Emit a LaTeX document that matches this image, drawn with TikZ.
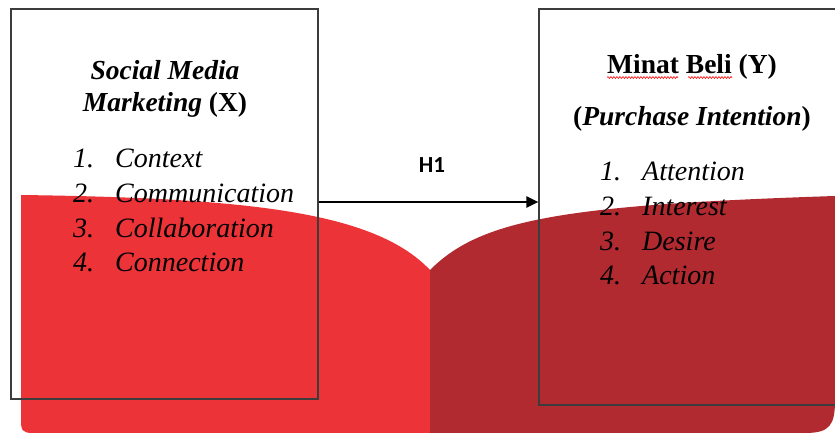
\documentclass[tikz,border=0pt]{standalone}
\usepackage{fontspec}
\setmainfont{Liberation Serif}
\newfontfamily\hfont{Carlito}
\usetikzlibrary{arrows.meta,decorations.pathmorphing}
\definecolor{redA}{HTML}{EB3338}
\definecolor{redB}{HTML}{B02A30}
\definecolor{boxgray}{HTML}{3C3C3C}
\newcommand{\numbx}[1]{\makebox[42pt][l]{#1}}
\tikzset{
  boxst/.style={draw=boxgray, line width=1.2pt, rectangle, inner sep=0pt},
  ttl/.style={anchor=base, inner sep=0pt, font=\fontsize{27.5}{32}\selectfont\bfseries},
  itm/.style={anchor=base west, inner sep=0pt, font=\fontsize{28}{32}\selectfont\itshape},
  arr/.style={line width=2.2pt, -{Triangle[length=12pt,width=11pt]}},
  squig/.style={red, line width=0.6pt, decorate, decoration={snake, amplitude=0.9pt, segment length=3pt}}
}
\begin{document}
\begin{tikzpicture}[x=1pt,y=-1pt]
\useasboundingbox (0,0) rectangle (835,433);
\begin{scope}
\clip (0,0) rectangle (835,433);
% red shapes
\fill[redA] (21,195) .. controls (250,198) and (375,212) .. (430,270) -- (430,433) -- (33,433) .. controls (22,433) and (21,430) .. (21,420) -- cycle;
\fill[redB] (430,270) .. controls (480,220) and (560,205) .. (835,196) -- (835,400) .. controls (835,425) and (830,433) .. (805,433) -- (430,433) -- cycle;
% boxes
\node (L) [boxst, minimum width=307pt, minimum height=390pt] at (164.5,204) {};
\node (R) [boxst, minimum width=311pt, minimum height=396pt] at (694.5,207) {};
\end{scope}
% left texts
\node (l1) [ttl] at (165,80) {\itshape Social Media};
\node (l2) [ttl] at (165,112) {\itshape Marketing \upshape(X)};
\node (a1) [itm] at (73,167) {\numbx{1.}Context};
\node (a2) [itm] at (73,202) {\numbx{2.}Communication};
\node (a3) [itm] at (73,237) {\numbx{3.}Collaboration};
\node (a4) [itm] at (73,271) {\numbx{4.}Connection};
% right texts
\node (r1) [ttl] at (692,74) {Minat Beli (Y)};
\node (r2) [ttl] at (692,126) {(\textit{Purchase Intention})};
\node (b1) [itm] at (600,180) {\numbx{1.}Attention};
\node (b2) [itm] at (600,215) {\numbx{2.}Interest};
\node (b3) [itm] at (600,250) {\numbx{3.}Desire};
\node (b4) [itm] at (600,284) {\numbx{4.}Action};
\draw[squig] (607,77.5) -- (678,77.5);
\draw[squig] (688,77.5) -- (732,77.5);
% arrow
\coordinate (ay) at (0,202);
\draw[arr] (L.east |- ay) -- (R.west |- ay);
\node (h1) [anchor=base, inner sep=0pt, font=\hfont\fontsize{23}{26}\selectfont\bfseries] at (432,172) {H1};
\end{tikzpicture}
\end{document}
